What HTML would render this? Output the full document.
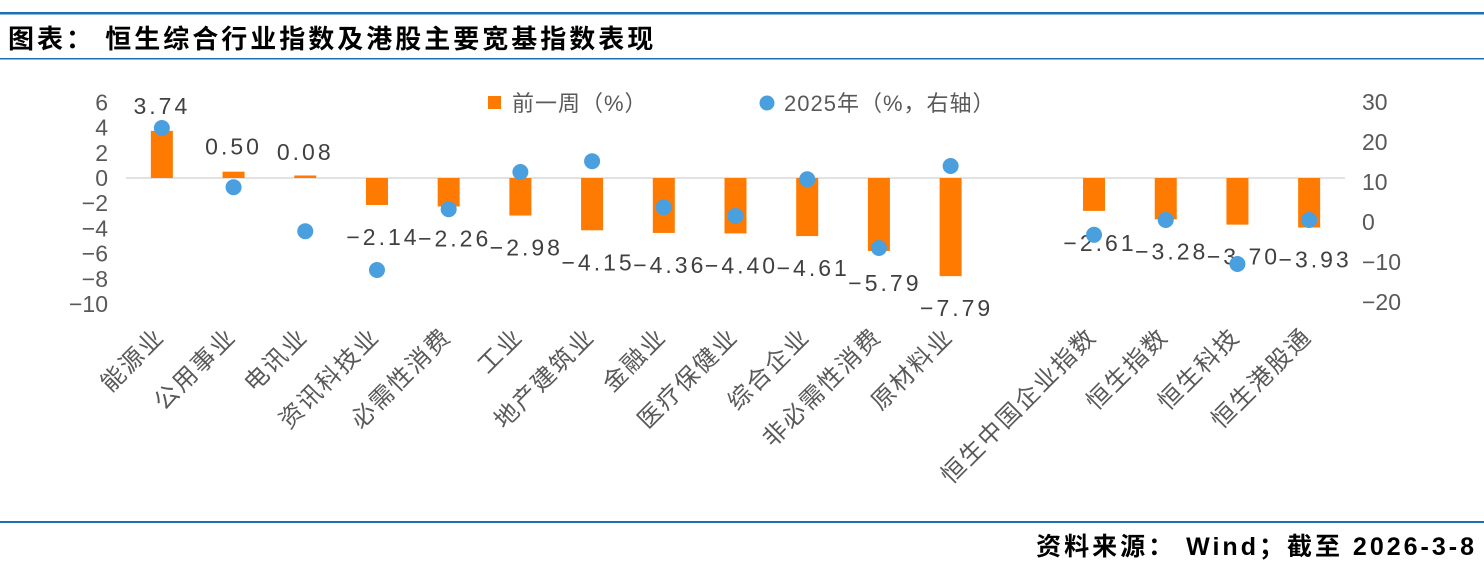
<!DOCTYPE html>
<html><head><meta charset="utf-8">
<style>
body{margin:0;background:#fff;width:1484px;height:568px;overflow:hidden}
svg{display:block;font-family:"Liberation Sans","Noto Sans CJK SC",sans-serif}
</style></head>
<body>
<svg id="c" width="1484" height="568">
<rect x="0" y="12" width="1484" height="2.5" fill="#1f6fb5"/>
<text x="8" y="48" font-size="26" font-weight="bold" fill="#000" letter-spacing="3">图表： 恒生综合行业指数及港股主要宽基指数表现</text>
<rect x="0" y="58" width="1484" height="1.5" fill="#1f6fb5"/>
<rect x="0" y="521" width="1484" height="2" fill="#1f6fb5"/>
<text x="1477" y="555" font-size="25" font-weight="bold" text-anchor="end" fill="#000" letter-spacing="3">资料来源： Wind；截至 2026-3-8</text>
<g>
<rect x="488" y="96" width="13" height="13" fill="#ff7a00"/>
<text x="512" y="111" font-size="22" fill="#595959" letter-spacing="1">前一周（%）</text>
<circle cx="767" cy="103" r="7.5" fill="#4a9fde"/>
<text x="784" y="111" font-size="22" fill="#595959" letter-spacing="1">2025年（%，右轴）</text>
</g>
<g id="plot"></g>
</svg>
<script>
const categories=["能源业","公用事业","电讯业","资讯科技业","必需性消费","工业","地产建筑业","金融业","医疗保健业","综合企业","非必需性消费","原材料业","","恒生中国企业指数","恒生指数","恒生科技","恒生港股通"];
const weekly=[3.74,0.50,0.08,-2.14,-2.26,-2.98,-4.15,-4.36,-4.40,-4.61,-5.79,-7.79,null,-2.61,-3.28,-3.70,-3.93];
const ytd2025=[23.5,8.7,-2.3,-12,3.2,12.5,15.2,3.7,1.5,10.7,-6.5,14,null,-3.2,0.5,-10.5,0.5];
const leftTicks=[6,4,2,0,-2,-4,-6,-8,-10];
const rightTicks=[30,20,10,0,-10,-20];

const NS="http://www.w3.org/2000/svg";
const g=document.getElementById('plot');
const x0=126,x1=1345,slot=(x1-x0)/categories.length;
const xc=i=>x0+slot*(i+0.5);
const yL=v=>178-v*12.6;
const yR=v=>222-v*4;
function mk(tag,attrs,txt){const e=document.createElementNS(NS,tag);for(const k in attrs)e.setAttribute(k,attrs[k]);if(txt!=null)e.textContent=txt;g.appendChild(e);return e;}
leftTicks.forEach(t=>{const e=mk('text',{x:108,y:yL(t)+8,'font-size':23,'text-anchor':'end',fill:'#595959'},String(t).replace('-','−'));

});
rightTicks.forEach(t=>{const e=mk('text',{x:1362,y:yR(t)+8,'font-size':23,fill:'#595959'},String(t).replace('-','−'));

});
const zl=mk('line',{x1:x0,x2:x1,y1:yL(0),y2:yL(0),stroke:'#d9d9d9','stroke-width':1.5});


categories.forEach((c,i)=>{
  const x=xc(i);
  if(weekly[i]!=null){
    const v=weekly[i];const h=Math.max(2.5,Math.abs(yL(v)-yL(0)));const y=v>=0?yL(0)-h:yL(0);
    const b=mk('rect',{x:x-11,y:y,width:22,height:h,fill:'#ff7a00'});
    
    
    const ly=v>=0?yL(v)-17:yL(v)+40;
    const lb=mk('text',{x:v>=0?x:x+6,y:ly,'font-size':23,'text-anchor':'middle',fill:'#404040','letter-spacing':'3'},v.toFixed(2).replace('-','−'));
    
    
  }
  if(ytd2025[i]!=null){
    const d=mk('circle',{cx:x,cy:yR(ytd2025[i]),r:8,fill:'#4a9fde'});
    
    
  }
  if(c){
    const t=mk('text',{x:0,y:0,'font-size':24,'text-anchor':'end',fill:'#595959','letter-spacing':'2',transform:`translate(${x+4},${338}) rotate(-45)`},c);
    
    
  }
});
</script>
</body></html>
